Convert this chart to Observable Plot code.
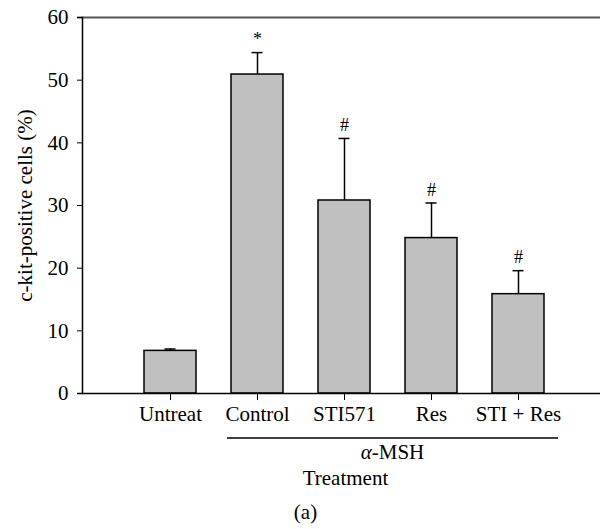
<!DOCTYPE html>
<html>
<head>
<meta charset="utf-8">
<script src="https://cdn.jsdelivr.net/npm/d3@7"></script>
<script src="https://cdn.jsdelivr.net/npm/@observablehq/plot@0.6"></script>
<style>
  html, body { margin: 0; padding: 0; background: #fff; }
  #chart svg { display: block; }
</style>
</head>
<body>
<div id="chart"></div>
<script>
const categories = ["Untreat", "Control", "STI571", "Res", "STI + Res"];
const means = [6.8, 50.9, 30.8, 24.8, 15.85];
const errors = [0.3, 3.5, 9.9, 5.6, 3.75];
const marks = ["", "*", "#", "#", "#"];
const yTicks = [0, 10, 20, 30, 40, 50, 60];
const yLabel = "c-kit-positive cells (%)";
const xLabel = "Treatment";
const groupLabel = "α-MSH";
const groupMembers = ["Control", "STI571", "Res", "STI + Res"];

const data = categories.map((c, i) => ({cat: c, mean: means[i], err: errors[i], top: means[i] + errors[i], mark: marks[i]}));

const font = "'Liberation Serif', 'Times New Roman', serif";

const chart = Plot.plot({
  width: 600,
  height: 529,
  marginLeft: 82,
  marginRight: 0,
  marginTop: 17,
  marginBottom: 136,
  style: {fontFamily: font, fontSize: "21px", color: "#000", background: "#fff"},
  x: {domain: categories, paddingInner: 0.4, paddingOuter: 0, insetLeft: 62, insetRight: 55, label: null},
  y: {domain: [0, 60], label: null},
  marks: [
    Plot.barY(data, {x: "cat", y: "mean", fill: "#c0c0c0", stroke: "#000", strokeWidth: 1.5}),
    Plot.ruleX(data, {x: "cat", y1: "mean", y2: "top", stroke: "#000", strokeWidth: 1.5}),
    Plot.tickY(data, {x: "cat", y: "top", stroke: "#000", strokeWidth: 1.5, inset: 20.5}),
    Plot.text(data, {x: "cat", y: "top", text: "mark", dy: -13, fontSize: 18, fill: "#000"}),
    Plot.ruleY([60], {stroke: "#555", strokeWidth: 2, insetLeft: -5}),
    Plot.ruleY([0], {stroke: "#000", strokeWidth: 1.5, insetLeft: -5}),
    Plot.frame({anchor: "left", stroke: "#000", strokeWidth: 1.5}),
    Plot.axisY({ticks: yTicks, tickSize: 5, tickPadding: 9, tickFormat: d => d, fontSize: 21,
      label: yLabel, labelAnchor: "center", labelOffset: 65, labelArrow: "none"}),
    Plot.axisX({tickSize: 7, tickPadding: 6, fontSize: 21, label: null}),
    Plot.text([xLabel], {frameAnchor: "bottom", dx: 4, dy: 91, fontSize: 21, fill: "#000"}),
    Plot.text(["(a)"], {frameAnchor: "bottom", dx: -36, dy: 125, fontSize: 21, fill: "#000"})
  ]
});

document.getElementById("chart").appendChild(chart);

// α-MSH group underline and label, positioned through the x scale
const xs = chart.scale("x");
const ys = chart.scale("y");
const bw = xs.bandwidth;
const x1 = xs.apply(groupMembers[0]) - 4;
const x2 = xs.apply(groupMembers[groupMembers.length - 1]) + bw + 14;
const yLine = ys.apply(0) + 45;
const svg = d3.select(chart);
const g = svg.append("g");
g.append("line")
  .attr("x1", x1).attr("x2", x2)
  .attr("y1", yLine).attr("y2", yLine)
  .attr("stroke", "#000").attr("stroke-width", 1.5);
const t = g.append("text")
  .attr("x", (x1 + x2) / 2)
  .attr("y", yLine + 21)
  .attr("text-anchor", "middle")
  .attr("font-family", font)
  .attr("font-size", 21)
  .attr("fill", "#000");
t.append("tspan").attr("font-style", "italic").text(groupLabel.slice(0, 1));
t.append("tspan").text(groupLabel.slice(1));
</script>
</body>
</html>
